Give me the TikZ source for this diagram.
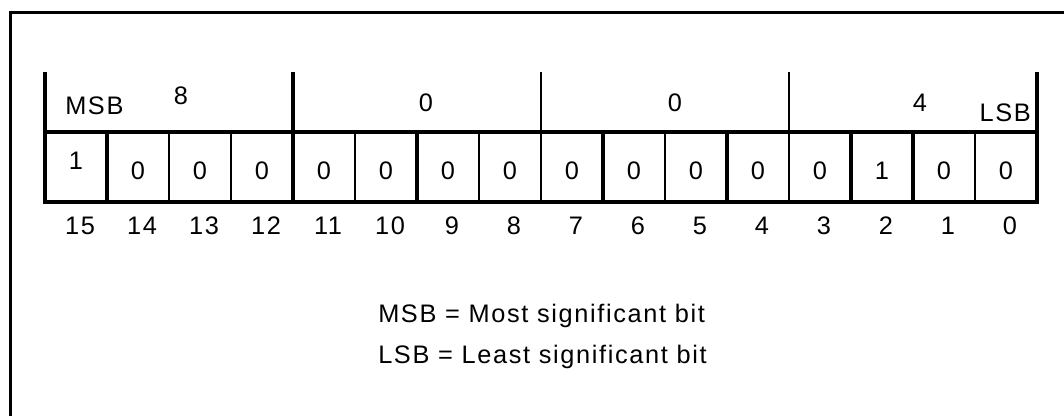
\documentclass[tikz,border=0pt]{standalone}
\usepackage{fontspec}
\setmainfont{Liberation Sans}[LetterSpace=6.5]

\begin{document}
\begin{tikzpicture}[x=0.75pt, y=-0.75pt,
  every node/.style={inner sep=0, anchor=base, font=\fontsize{19}{23}\selectfont},
  frameline/.style={line width=2.25pt},
  heavyline/.style={line width=3pt},
  lightline/.style={line width=1.9pt}]
\useasboundingbox (0,0) rectangle (1064,416);
% Frame
\draw[frameline] (10,416) -- (10,13) -- (1064,13);
% Register
\draw[heavyline, line cap=rect] (45,132) -- (1037,132);
\draw[heavyline, line cap=rect] (45,202) -- (1037,202);
\draw[heavyline] (45,72) -- (45,202) (107,132) -- (107,202) (293,72) -- (293,202) (417,132) -- (417,202) (603,132) -- (603,202) (727,132) -- (727,202) (851,132) -- (851,202) (913,132) -- (913,202) (1037,72) -- (1037,202);
\draw[lightline] (169,132) -- (169,202) (231,132) -- (231,202) (355,132) -- (355,202) (479,132) -- (479,202) (541,72) -- (541,202) (665,132) -- (665,202) (789,72) -- (789,202) (975,132) -- (975,202);
% Hex digits
\node[anchor=base west] (msb) at (65,115) {MSB};
\node (g3) at (181,105) {8};
\node (g2) at (426,112) {0};
\node (g1) at (675,112) {0};
\node (g0) at (920,112) {4};
\node[anchor=base east] (lsb) at (1031,122) {LSB};
% Bit values
\node (b15) at (76,170) {1};
\node (b14) at (138,180) {0};
\node (b13) at (200,180) {0};
\node (b12) at (262,180) {0};
\node (b11) at (324,180) {0};
\node (b10) at (386,180) {0};
\node (b9) at (448,180) {0};
\node (b8) at (510,180) {0};
\node (b7) at (572,180) {0};
\node (b6) at (634,180) {0};
\node (b5) at (696,180) {0};
\node (b4) at (758,180) {0};
\node (b3) at (820,180) {0};
\node (b2) at (882,180) {1};
\node (b1) at (944,180) {0};
\node (b0) at (1006,180) {0};
% Bit numbers
\node (n15) at (80,235) {15};
\node (n14) at (142,235) {14};
\node (n13) at (204,235) {13};
\node (n12) at (266,235) {12};
\node (n11) at (328,235) {11};
\node (n10) at (390,235) {10};
\node (n9) at (452,235) {9};
\node (n8) at (514,235) {8};
\node (n7) at (576,235) {7};
\node (n6) at (638,235) {6};
\node (n5) at (700,235) {5};
\node (n4) at (762,235) {4};
\node (n3) at (824,235) {3};
\node (n2) at (886,235) {2};
\node (n1) at (948,235) {1};
\node (n0) at (1010,235) {0};
% Legend
\node[anchor=base west] (key1) at (378,323) {MSB = Most significant bit};
\node[anchor=base west] (key2) at (378,364) {LSB = Least significant bit};
\end{tikzpicture}
\end{document}
